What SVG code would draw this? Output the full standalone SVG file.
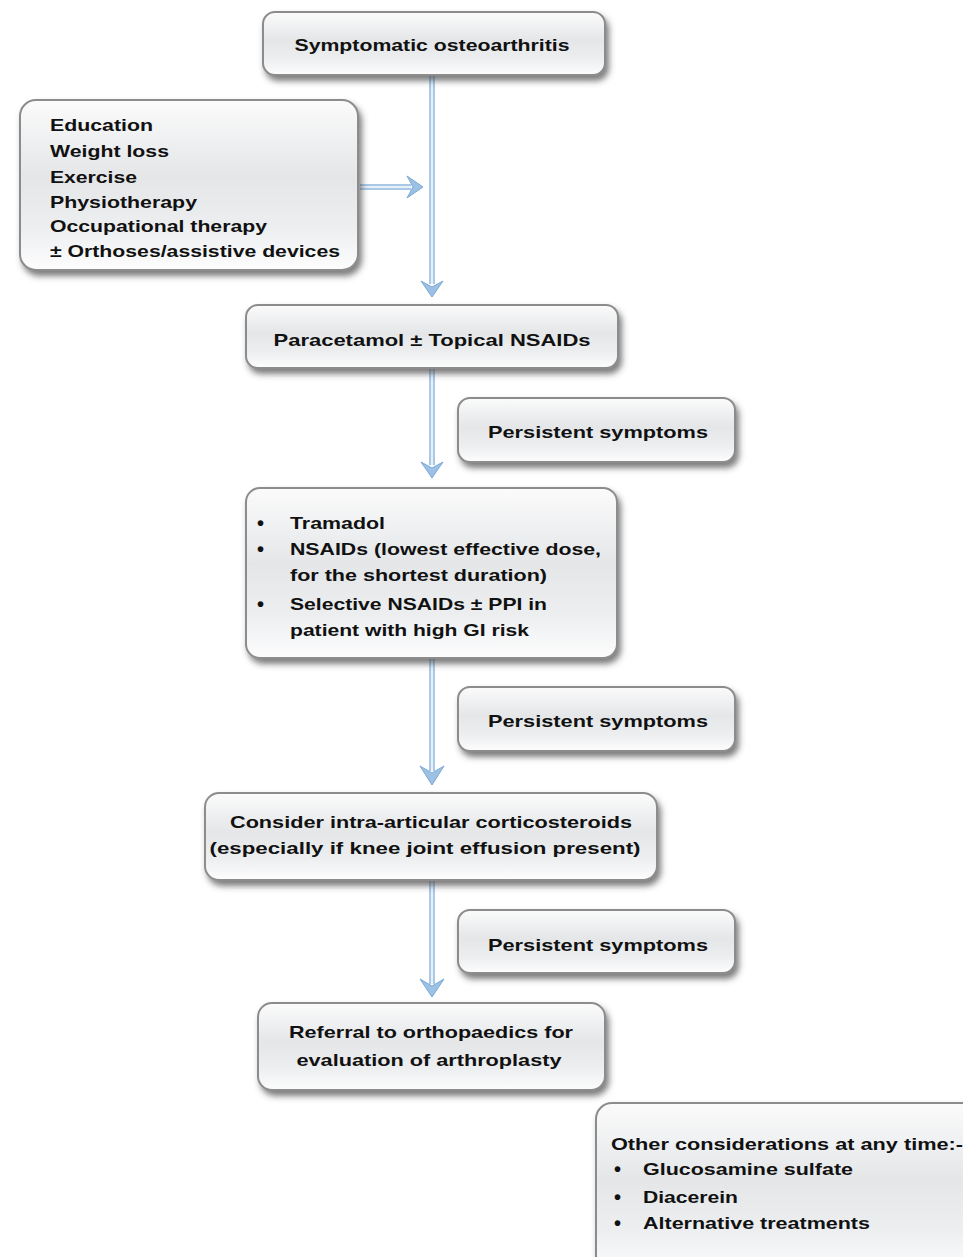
<svg xmlns="http://www.w3.org/2000/svg" width="963" height="1257" viewBox="0 0 963 1257">
<style>
.box{fill:url(#g);stroke:#8c8c8c;stroke-width:2;filter:url(#sh)}
.t{font-family:"Liberation Sans",Arial,sans-serif;font-weight:bold;font-size:17px;fill:#111}
.b{font-family:"Liberation Sans",Arial,sans-serif;font-weight:bold;font-size:20px;fill:#111}
.c{text-anchor:middle}
.shaft{stroke:#a9c9e6;stroke-width:6;fill:none}
.shaftin{stroke:#e4f0fa;stroke-width:2;fill:none}
.head{fill:#9cc1e4;stroke:#7aa9d6;stroke-width:1}
</style>
<defs>
<linearGradient id="g" x1="0" y1="0" x2="0" y2="1">
<stop offset="0" stop-color="#fbfbfb"/>
<stop offset="0.45" stop-color="#e4e6e8"/>
<stop offset="0.75" stop-color="#eceef0"/>
<stop offset="1" stop-color="#fdfdfd"/>
</linearGradient>
<filter id="sh" x="-10%" y="-10%" width="125%" height="135%">
<feDropShadow dx="3" dy="5" stdDeviation="3" flood-color="#444" flood-opacity="0.7"/>
</filter>
</defs>
<g id="connectors">
<path class="shaft" d="M432 76V284"/><path class="shaftin" d="M432 76V284"/>
<path class="head" d="M421 281L432 297L443 281L432 287Z"/>
<path class="shaft" d="M360 187H411"/><path class="shaftin" d="M360 187H411"/>
<path class="head" d="M407 176L423 187L407 198L413 187Z"/>
<path class="shaft" d="M432 369V465"/><path class="shaftin" d="M432 369V465"/>
<path class="head" d="M421 462L432 478L443 462L432 468Z"/>
<path class="shaft" d="M432 659V771"/><path class="shaftin" d="M432 659V771"/>
<path class="head" d="M420 766L432 785L444 766L432 773Z"/>
<path class="shaft" d="M432 881V984"/><path class="shaftin" d="M432 881V984"/>
<path class="head" d="M420 979L432 997L444 979L432 986Z"/>
</g>
<g id="n1"><rect class="box" x="263" y="12" width="342" height="63" rx="12"/>
<text class="t c" x="432" y="51" textLength="275" lengthAdjust="spacingAndGlyphs">Symptomatic osteoarthritis</text></g>
<g id="n2"><rect class="box" x="20" y="100" width="338" height="170" rx="16"/>
<text class="t" x="50" y="131" textLength="103" lengthAdjust="spacingAndGlyphs">Education</text>
<text class="t" x="50" y="157" textLength="119" lengthAdjust="spacingAndGlyphs">Weight loss</text>
<text class="t" x="50" y="183" textLength="87" lengthAdjust="spacingAndGlyphs">Exercise</text>
<text class="t" x="50" y="208" textLength="147" lengthAdjust="spacingAndGlyphs">Physiotherapy</text>
<text class="t" x="50" y="232" textLength="217" lengthAdjust="spacingAndGlyphs">Occupational therapy</text>
<text class="t" x="50" y="257" textLength="290" lengthAdjust="spacingAndGlyphs">± Orthoses/assistive devices</text></g>
<g id="n3"><rect class="box" x="246" y="305" width="372" height="63" rx="12"/>
<text class="t c" x="432" y="346" textLength="317" lengthAdjust="spacingAndGlyphs">Paracetamol ± Topical NSAIDs</text></g>
<g id="p1"><rect class="box" x="458" y="398" width="277" height="64" rx="12"/>
<text class="t c" x="598" y="438" textLength="220" lengthAdjust="spacingAndGlyphs">Persistent symptoms</text></g>
<g id="n4"><rect class="box" x="246" y="488" width="371" height="170" rx="14"/>
<text class="b" x="257" y="530">•</text><text class="t" x="290" y="529" textLength="95" lengthAdjust="spacingAndGlyphs">Tramadol</text>
<text class="b" x="257" y="556">•</text><text class="t" x="290" y="555" textLength="311" lengthAdjust="spacingAndGlyphs">NSAIDs (lowest effective dose,</text>
<text class="t" x="290" y="581" textLength="257" lengthAdjust="spacingAndGlyphs">for the shortest duration)</text>
<text class="b" x="257" y="611">•</text><text class="t" x="290" y="610" textLength="257" lengthAdjust="spacingAndGlyphs">Selective NSAIDs ± PPI in</text>
<text class="t" x="290" y="636" textLength="239" lengthAdjust="spacingAndGlyphs">patient with high GI risk</text></g>
<g id="p2"><rect class="box" x="458" y="687" width="277" height="64" rx="12"/>
<text class="t c" x="598" y="727" textLength="220" lengthAdjust="spacingAndGlyphs">Persistent symptoms</text></g>
<g id="n5"><rect class="box" x="205" y="793" width="452" height="87" rx="14"/>
<text class="t c" x="431" y="828" textLength="402" lengthAdjust="spacingAndGlyphs">Consider intra-articular corticosteroids</text>
<text class="t c" x="425" y="854" textLength="431" lengthAdjust="spacingAndGlyphs">(especially if knee joint effusion present)</text></g>
<g id="p3"><rect class="box" x="458" y="910" width="277" height="63" rx="12"/>
<text class="t c" x="598" y="951" textLength="220" lengthAdjust="spacingAndGlyphs">Persistent symptoms</text></g>
<g id="n6"><rect class="box" x="258" y="1003" width="347" height="87" rx="14"/>
<text class="t c" x="431" y="1038" textLength="284" lengthAdjust="spacingAndGlyphs">Referral to orthopaedics for</text>
<text class="t c" x="429" y="1066" textLength="265" lengthAdjust="spacingAndGlyphs">evaluation of arthroplasty</text></g>
<g id="n7"><rect class="box" x="596" y="1103" width="390" height="170" rx="16"/>
<text class="t" x="611" y="1150" textLength="352" lengthAdjust="spacingAndGlyphs">Other considerations at any time:-</text>
<text class="b" x="614" y="1176">•</text><text class="t" x="643" y="1175" textLength="210" lengthAdjust="spacingAndGlyphs">Glucosamine sulfate</text>
<text class="b" x="614" y="1204">•</text><text class="t" x="643" y="1203" textLength="95" lengthAdjust="spacingAndGlyphs">Diacerein</text>
<text class="b" x="614" y="1230">•</text><text class="t" x="643" y="1229" textLength="227" lengthAdjust="spacingAndGlyphs">Alternative treatments</text></g>
</svg>
